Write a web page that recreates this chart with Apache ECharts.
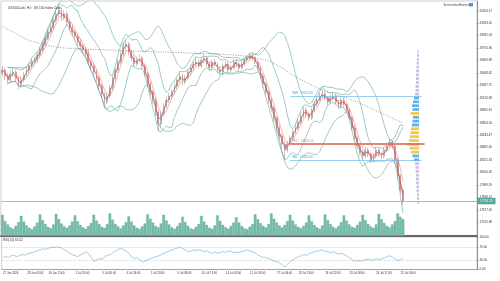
<!DOCTYPE html>
<html>
<head>
<meta charset="utf-8">
<title>US100Cash H1</title>
<script src="https://cdn.jsdelivr.net/npm/echarts@6/dist/echarts.min.js"></script>
<style>
  html, body { margin: 0; padding: 0; background: #fff; }
  #chart { width: 500px; height: 281px; }
</style>
</head>
<body>
<div id="chart"></div>
<script>
// price bars (each bar here stands for a few H1 bars of the original)
var firstOpen = 19440
var closes = [19486,19409,19357,19434,19460,19383,19292,19357,19422,19486,
  19538,19590,19616,19680,19745,19823,19900,19978,20030,20133,
  20211,20263,20159,20211,20107,20030,19978,19926,19849,19797,
  19745,19706,19590,19538,19460,19383,19279,19176,19072,19150,
  19253,19383,19486,19590,19693,19797,19823,19719,19642,19564,
  19616,19642,19538,19434,19305,19202,19098,18943,18787,18917,
  19020,19098,19150,19202,19279,19357,19409,19331,19383,19460,
  19512,19564,19590,19538,19616,19642,19564,19512,19590,19564,
  19486,19460,19538,19564,19486,19512,19590,19564,19512,19564,
  19616,19642,19667,19642,19590,19512,19409,19305,19202,19098,
  18994,18865,18736,18632,18529,18451,18529,18606,18684,18736,
  18813,18891,18969,18917,18865,18969,19046,19098,19150,19176,
  19124,19072,19124,19150,19072,19020,19098,19046,18969,18865,
  18736,18606,18503,18425,18373,18451,18399,18322,18373,18451,
  18399,18373,18451,18503,18554,18503,18322,18115,17933,17791]
var highs = [19540,19520,19450,19480,19510,19490,19410,19400,19460,19530,
  19580,19630,19660,19720,19790,19860,19950,20020,20080,20170,
  20250,20315,20290,20260,20240,20140,20070,20010,19960,19890,
  19830,19780,19740,19630,19570,19500,19410,19310,19200,19190,
  19290,19420,19520,19630,19730,19840,19880,19850,19750,19680,
  19660,19690,19670,19570,19460,19340,19230,19130,18970,18950,
  19060,19140,19190,19240,19320,19390,19450,19440,19420,19500,
  19550,19600,19640,19620,19650,19690,19670,19600,19620,19630,
  19590,19520,19570,19600,19590,19550,19620,19630,19590,19600,
  19650,19680,19710,19700,19670,19620,19540,19440,19330,19230,
  19130,19020,18890,18770,18660,18560,18570,18640,18720,18780,
  18850,18930,19010,19000,18950,19000,19080,19140,19190,19230,
  19210,19150,19160,19190,19180,19100,19130,19130,19080,19000,
  18890,18770,18640,18540,18460,18490,18480,18430,18410,18490,
  18480,18430,18490,18540,18600,18580,18530,18350,18140,17960]
var lows = [19400,19360,19300,19320,19400,19340,19240,19260,19330,19400,
  19450,19500,19550,19580,19650,19710,19790,19870,19940,20000,
  20100,20170,20120,20130,20060,19990,19930,19880,19800,19750,
  19700,19660,19550,19490,19420,19340,19230,19120,19010,19040,
  19120,19220,19350,19450,19560,19660,19760,19680,19600,19520,
  19530,19580,19500,19400,19260,19160,19050,18890,18700,18750,
  18880,18990,19060,19110,19170,19240,19320,19290,19300,19350,
  19420,19480,19530,19500,19510,19580,19530,19470,19480,19530,
  19450,19420,19430,19510,19450,19460,19490,19530,19480,19490,
  19540,19590,19610,19610,19560,19480,19370,19260,19160,19050,
  18950,18820,18690,18590,18480,18330,18420,18500,18580,18650,
  18710,18780,18860,18880,18830,18840,18940,19010,19070,19120,
  19090,19030,19040,19090,19040,18980,18990,19010,18930,18830,
  18700,18570,18460,18380,18330,18340,18360,18280,18290,18340,
  18360,18330,18340,18420,18470,18470,18280,18070,17880,17740]
var volumes = [88,62,48,36,30,42,58, 84,60,44,34,28,40,56, 90,66,50,38,32,48,
  92,70,52,40,34,44,60, 86,62,46,36,30,42,54, 88,64,50,38,34,50,
  94,68,50,40,32,44,58, 82,60,44,34,30,40,52, 90,72,56,42,36,52,
  88,64,48,36,30,40,54, 80,58,42,32,28,38,50, 84,60,46,34,30,44,
  86,62,46,36,30,42,56, 78,56,42,32,28,38,50, 90,70,54,42,36,50,
  94,72,56,44,36,46,62, 88,64,48,38,32,42,56, 86,62,46,36,30,44,
  90,66,50,38,32,42,58, 86,64,48,38,34,46,60, 88,66,50,40,34,48,
  92,70,54,42,36,48,62, 94,80,70]
var rsiValues = [37,40,36,42,44,40,42,46,44,48,
  50,52,55,58,61,64,62,66,68,67,
  70,68,66,60,56,50,45,42,40,46,
  50,54,48,36,25,30,34,31,40,44,
  46,52,58,62,66,60,56,48,38,34,
  36,30,22,26,30,34,37,40,42,46,
  50,54,57,60,64,66,68,64,60,55,
  57,60,58,61,58,55,57,52,50,54,
  50,52,55,53,57,55,52,54,52,56,
  58,60,57,55,50,44,40,37,36,34,
  30,26,24,20,14,8,16,25,30,35,
  40,42,46,44,48,52,55,57,58,60,
  56,54,52,55,50,48,50,46,42,36,
  30,25,27,26,28,30,32,28,30,34,
  30,33,36,40,42,38,32,28,30,34.52]

// slow moving average (dotted), read at a few bars
var slowMaSlots = [0,5,10,20,30,40,50,60,70,80,90,100,110,120,130,140,149]
var slowMaValues = [20050,19960,19870,19784,19758,19745,19732,19719,19706,19693,19667,19590,19380,19215,19098,18943,18800]

var timeLabels = ['27 Jun 2024','28 Jun 02:00','30 Jun 11:00','1 Jul 20:00','3 Jul 05:00','4 Jul 14:00',
  '5 Jul 23:00','9 Jul 08:00','10 Jul 17:00','14 Jul 02:00','15 Jul 18:00','17 Jul 04:00',
  '18 Jul 13:00','19 Jul 22:00','23 Jul 08:00','24 Jul 17:00','25 Jul 03:00']
var labelSlots = [0,9,17,27,37,46,55,65,74,83,92,102,110,120,129,139,148]

var priceTicks = [20254.17,20093.10,19932.03,19770.96,19609.89,19448.82,19287.75,19126.68,18965.61,
  18804.54,18643.47,18482.40,18321.33,18160.26,17999.19,17838.12,17677.05,17515.98]
var rsiTicks = [0, 30, 70, 100]

// volume profile, bin centres from bottom to top
var profilePrices = [17775,17825,17875,17925,17975,18025,18075,18125,18175,18225,
  18275,18325,18375,18425,18475,18525,18575,18625,18675,18725,
  18775,18825,18875,18925,18975,19025,19075,19125,19175,19225,
  19275,19325,19375,19425,19475,19525,19575,19625,19675,19725]
var profileVolumes = [1.5,2,2,2.5,2.5,3,3,3,3.5,3.5,
  4,5,6.5,8,9.5,12,10,9,8.5,8,
  7,6.5,6,8.5,6.5,7,6,5,4,3.5,
  3.5,3,3,3,3,2.5,2.5,2,2,1.5]

var vah = 19150.46
var poc = 18532.21
var val = 18324.08
var lastPrice = 17791.20

var SLOTS = 177
var levelStart = 107
var levelEnd = 156
var mainTop = 1, mainBottom = 236
var yMax = 20379.7, yMin = 17338.6
var binHalf = 25

var opens = closes.map(function (c, i) { return i === 0 ? firstOpen : closes[i - 1] })
var candles = closes.map(function (c, i) { return [opens[i], c, lows[i], highs[i]] })

function sma(arr, n) {
  return arr.map(function (v, i) {
    var from = Math.max(0, i - n + 1), s = 0
    for (var j = from; j <= i; j++) s += arr[j]
    return +(s / (i - from + 1)).toFixed(1)
  })
}
function bands(arr, n, k) {
  var up = [], lo = []
  arr.forEach(function (v, i) {
    var from = Math.max(0, i - n + 1)
    if (i - from < 2) { up.push('-'); lo.push('-'); return }
    var w = arr.slice(from, i + 1)
    var m = w.reduce(function (a, b) { return a + b }, 0) / w.length
    var sd = Math.sqrt(w.reduce(function (a, b) { return a + (b - m) * (b - m) }, 0) / w.length)
    up.push(+(m + k * sd).toFixed(1))
    lo.push(+(m - k * sd).toFixed(1))
  })
  return { up: up, lo: lo }
}

var maFast = sma(closes, 2)
var maMid = sma(closes, 4)
var bbIn = bands(closes, 6, 2)
var bbOut = bands(closes, 14, 2)
var slowMa = closes.map(function () { return null })
slowMaSlots.forEach(function (s, k) { slowMa[s] = slowMaValues[k] })

var slotNames = []
for (var s = 0; s < SLOTS; s++) slotNames.push(String(s))

function priceToY(p) {
  return mainTop + (yMax - p) / (yMax - yMin) * (mainBottom - mainTop)
}
var profTop = priceToY(profilePrices[profilePrices.length - 1] + binHalf)
var profBottom = priceToY(profilePrices[0] - binHalf)

function binColor(k) {
  var p = profilePrices[k]
  if (Math.abs(p - poc) <= binHalf) return '#f0b340'
  if (p > vah || p < val) return '#cdbfe2'
  if (profileVolumes[k] >= 8) return '#f4c64e'
  return '#62afe2'
}

var chart = echarts.init(document.getElementById('chart'))

var bandLine = { color: '#5ea99c', width: 0.6 }

chart.setOption({
  animation: false,
  backgroundColor: '#fff',
  title: {
    text: 'US100Cash, H1:  US 100 Index Cash',
    left: 3, top: 2,
    textStyle: { fontSize: 3.2, fontWeight: 'normal', color: '#333', fontFamily: 'Liberation Sans' }
  },
  graphic: [
    { type: 'text', right: 31, top: 3.5, style: { text: 'ScreenshotServer', fontSize: 3.2, fill: '#444', fontFamily: 'Liberation Sans' } },
    { type: 'rect', left: 469, top: 3, shape: { width: 4, height: 3.5 }, style: { fill: '#4d97d6' } },
    { type: 'text', left: 3, top: 238.5, style: { text: 'RSI(14) 34.52', fontSize: 3.2, fill: '#333', fontFamily: 'Liberation Sans' } }
  ],
  grid: [
    { left: 1, right: 23, top: mainTop, height: mainBottom - mainTop, show: true, borderColor: '#999', borderWidth: 0.5 },
    { left: 1, right: 23, top: 212, height: 24 },
    { left: 1, right: 23, top: 237, height: 32.5, show: true, borderColor: '#999', borderWidth: 0.5 },
    { left: 405, width: 14, top: profTop, height: profBottom - profTop }
  ],
  xAxis: [
    { type: 'category', gridIndex: 0, data: slotNames, boundaryGap: true,
      axisLine: { lineStyle: { color: '#666', width: 2 } }, axisTick: { show: false }, axisLabel: { show: false } },
    { type: 'category', gridIndex: 1, data: slotNames, show: false },
    { type: 'category', gridIndex: 2, data: slotNames, boundaryGap: true,
      axisLine: { lineStyle: { color: '#888', width: 0.6 } },
      axisTick: { length: 1.5, lineStyle: { color: '#888', width: 0.5 },
        interval: function (i) { return labelSlots.indexOf(i) >= 0 } },
      axisLabel: { fontSize: 2.8, color: '#333', margin: 2, align: 'left', fontFamily: 'Liberation Sans',
        interval: function (i) { return labelSlots.indexOf(i) >= 0 },
        formatter: function (v, i) { var k = labelSlots.indexOf(i); return k >= 0 ? timeLabels[k] : '' } } },
    { type: 'value', gridIndex: 3, inverse: true, min: 0, max: 14, show: false }
  ],
  yAxis: [
    { type: 'value', gridIndex: 0, position: 'right', min: yMin, max: yMax, splitLine: { show: false },
      axisLine: { show: true, lineStyle: { color: '#555', width: 0.6 } },
      axisTick: { show: true, length: 1.5, customValues: priceTicks, lineStyle: { color: '#555', width: 0.5 } },
      axisLabel: { customValues: priceTicks, fontSize: 3, color: '#333', margin: 2.5, fontFamily: 'Liberation Sans',
        formatter: function (v) { return v.toFixed(2) } } },
    { type: 'value', gridIndex: 1, min: 0, max: 100, show: false },
    { type: 'value', gridIndex: 2, position: 'right', min: 0, max: 100, splitLine: { show: false },
      axisLine: { show: true, lineStyle: { color: '#555', width: 0.6 } },
      axisTick: { show: true, length: 1.5, customValues: rsiTicks, lineStyle: { color: '#555', width: 0.5 } },
      axisLabel: { customValues: rsiTicks, fontSize: 3, color: '#333', margin: 2.5, fontFamily: 'Liberation Sans',
        formatter: function (v) { return v.toFixed(2) } } },
    { type: 'category', gridIndex: 3, data: profilePrices.map(String), show: false }
  ],
  series: [
    { type: 'line', xAxisIndex: 0, yAxisIndex: 0, data: bbOut.up, symbol: 'none', lineStyle: bandLine },
    { type: 'line', xAxisIndex: 0, yAxisIndex: 0, data: bbOut.lo, symbol: 'none', lineStyle: bandLine },
    { type: 'line', xAxisIndex: 0, yAxisIndex: 0, data: bbIn.up, symbol: 'none', lineStyle: bandLine },
    { type: 'line', xAxisIndex: 0, yAxisIndex: 0, data: bbIn.lo, symbol: 'none', lineStyle: bandLine },
    { type: 'line', xAxisIndex: 0, yAxisIndex: 0, data: slowMa, connectNulls: true, symbol: 'none', smooth: 0.3,
      lineStyle: { color: '#555', width: 0.6, type: [1, 1.5] } },
    { type: 'bar', xAxisIndex: 1, yAxisIndex: 1, data: volumes, barWidth: '96%',
      itemStyle: { color: '#76bcad', borderColor: '#55a092', borderWidth: 0.3 } },
    { type: 'candlestick', xAxisIndex: 0, yAxisIndex: 0, data: candles, barWidth: 1.4,
      itemStyle: { color: '#95aea6', color0: '#c98888', borderColor: '#7f9a91', borderColor0: '#bb7777', borderWidth: 0.5 },
      markLine: {
        silent: true, symbol: ['none', 'none'],
        data: [
          { yAxis: lastPrice, lineStyle: { color: '#78bcb0', width: 0.8, type: 'solid' },
            label: { position: 'end', distance: 1, formatter: lastPrice.toFixed(2), fontSize: 3, color: '#fff',
              backgroundColor: '#55a998', padding: [2, 3, 1.5, 2], fontFamily: 'Liberation Sans' } },
          [{ coord: [levelStart, vah], lineStyle: { color: '#6fbbe5', width: 0.7, type: 'solid' },
             label: { position: 'insideStartTop', distance: [2, 1], formatter: 'VAH   ' + vah.toFixed(2), fontSize: 3, color: '#4aa6dd', fontFamily: 'Liberation Sans' } },
           { coord: [levelEnd, vah] }],
          [{ coord: [levelStart, poc], lineStyle: { color: '#e0705f', width: 2.2, type: 'solid', opacity: 0.85 },
             label: { position: 'insideStartTop', distance: [2, 1.5], formatter: 'POC   ' + poc.toFixed(2), fontSize: 3, color: '#d85a4a', fontFamily: 'Liberation Sans' } },
           { coord: [levelEnd + 1, poc] }],
          [{ coord: [levelStart, val], lineStyle: { color: '#6fbbe5', width: 0.7, type: 'solid' },
             label: { position: 'insideStartTop', distance: [2, 1], formatter: 'VAL   ' + val.toFixed(2), fontSize: 3, color: '#4aa6dd', fontFamily: 'Liberation Sans' } },
           { coord: [levelEnd, val] }]
        ]
      } },
    { type: 'line', xAxisIndex: 0, yAxisIndex: 0, data: maMid, symbol: 'none', lineStyle: { color: '#e58a8a', width: 0.6 } },
    { type: 'line', xAxisIndex: 0, yAxisIndex: 0, data: maFast, symbol: 'none', lineStyle: { color: '#dd4a4a', width: 0.7 } },
    { type: 'bar', xAxisIndex: 3, yAxisIndex: 3, barCategoryGap: '30%',
      data: profileVolumes.map(function (v, k) { return { value: v, itemStyle: { color: binColor(k) } } }) },
    { type: 'line', xAxisIndex: 2, yAxisIndex: 2, data: rsiValues, symbol: 'none',
      lineStyle: { color: '#62acd8', width: 0.6 },
      markLine: { silent: true, symbol: ['none', 'none'], label: { show: false },
        lineStyle: { color: '#999', width: 0.5, type: [1, 1.5] },
        data: [{ yAxis: 70 }, { yAxis: 30 }] } }
  ]
})
</script>
</body>
</html>
